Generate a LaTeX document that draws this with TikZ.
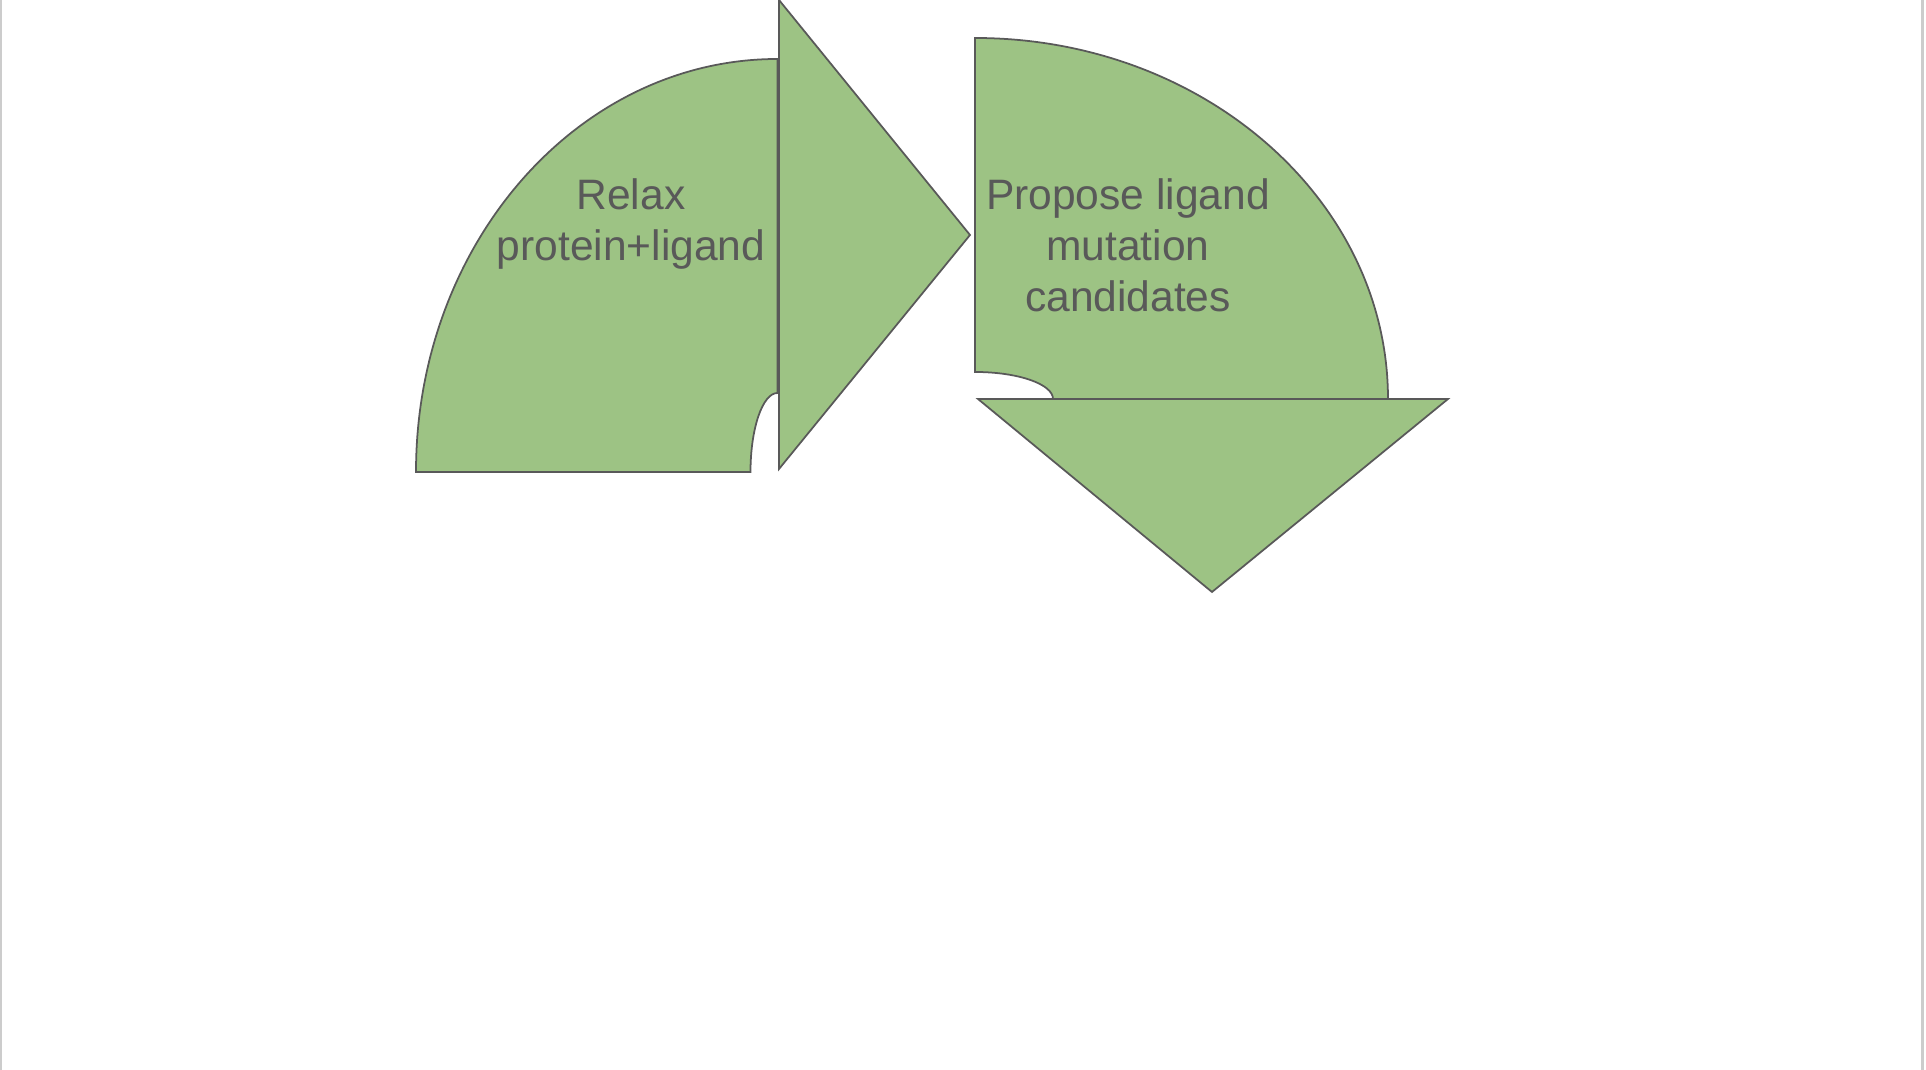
\documentclass[tikz,border=0pt]{standalone}
\usepackage{fontspec}
\setmainfont{Liberation Sans}
\definecolor{leaf}{HTML}{9DC384}
\definecolor{ink}{HTML}{595959}
\begin{document}
\begin{tikzpicture}[x=0.01cm, y=0.01cm,
  piece/.style={fill=leaf, draw=ink, line width=0.5pt, line join=miter},
  label/.style={align=center, text=ink, font=\fontsize{12.1}{14.5}\selectfont}]
\useasboundingbox (0,0) rectangle (1926,1070);
\draw[color=gray!40, line width=0.6pt] (1.2,0) -- (1.2,1070);
\draw[color=gray!40, line width=0.6pt] (1922.5,0) -- (1922.5,1070);
% first step
\draw[piece] (416,598) arc[start angle=180, end angle=90, x radius=361.5, y radius=413]
-- (777.5,677) arc[start angle=90, end angle=180, x radius=27, y radius=79] -- cycle;
\draw[piece] (779,1070) -- (970,835) -- (779,601) -- cycle;
% second step
\draw[piece] (975,1032) -- (975,698) arc[start angle=90, end angle=0, x radius=78, y radius=27]
-- (1388,671) arc[start angle=0, end angle=90, x radius=413, y radius=361] -- cycle;
\draw[piece] (978,671) -- (1448,671) -- (1212,478) -- cycle;
\node[label] (relax) at (631,846) {Relax\\protein+ligand};
\node[label] (propose) at (1128,825) {Propose ligand\\mutation\\candidates};
\end{tikzpicture}
\end{document}
